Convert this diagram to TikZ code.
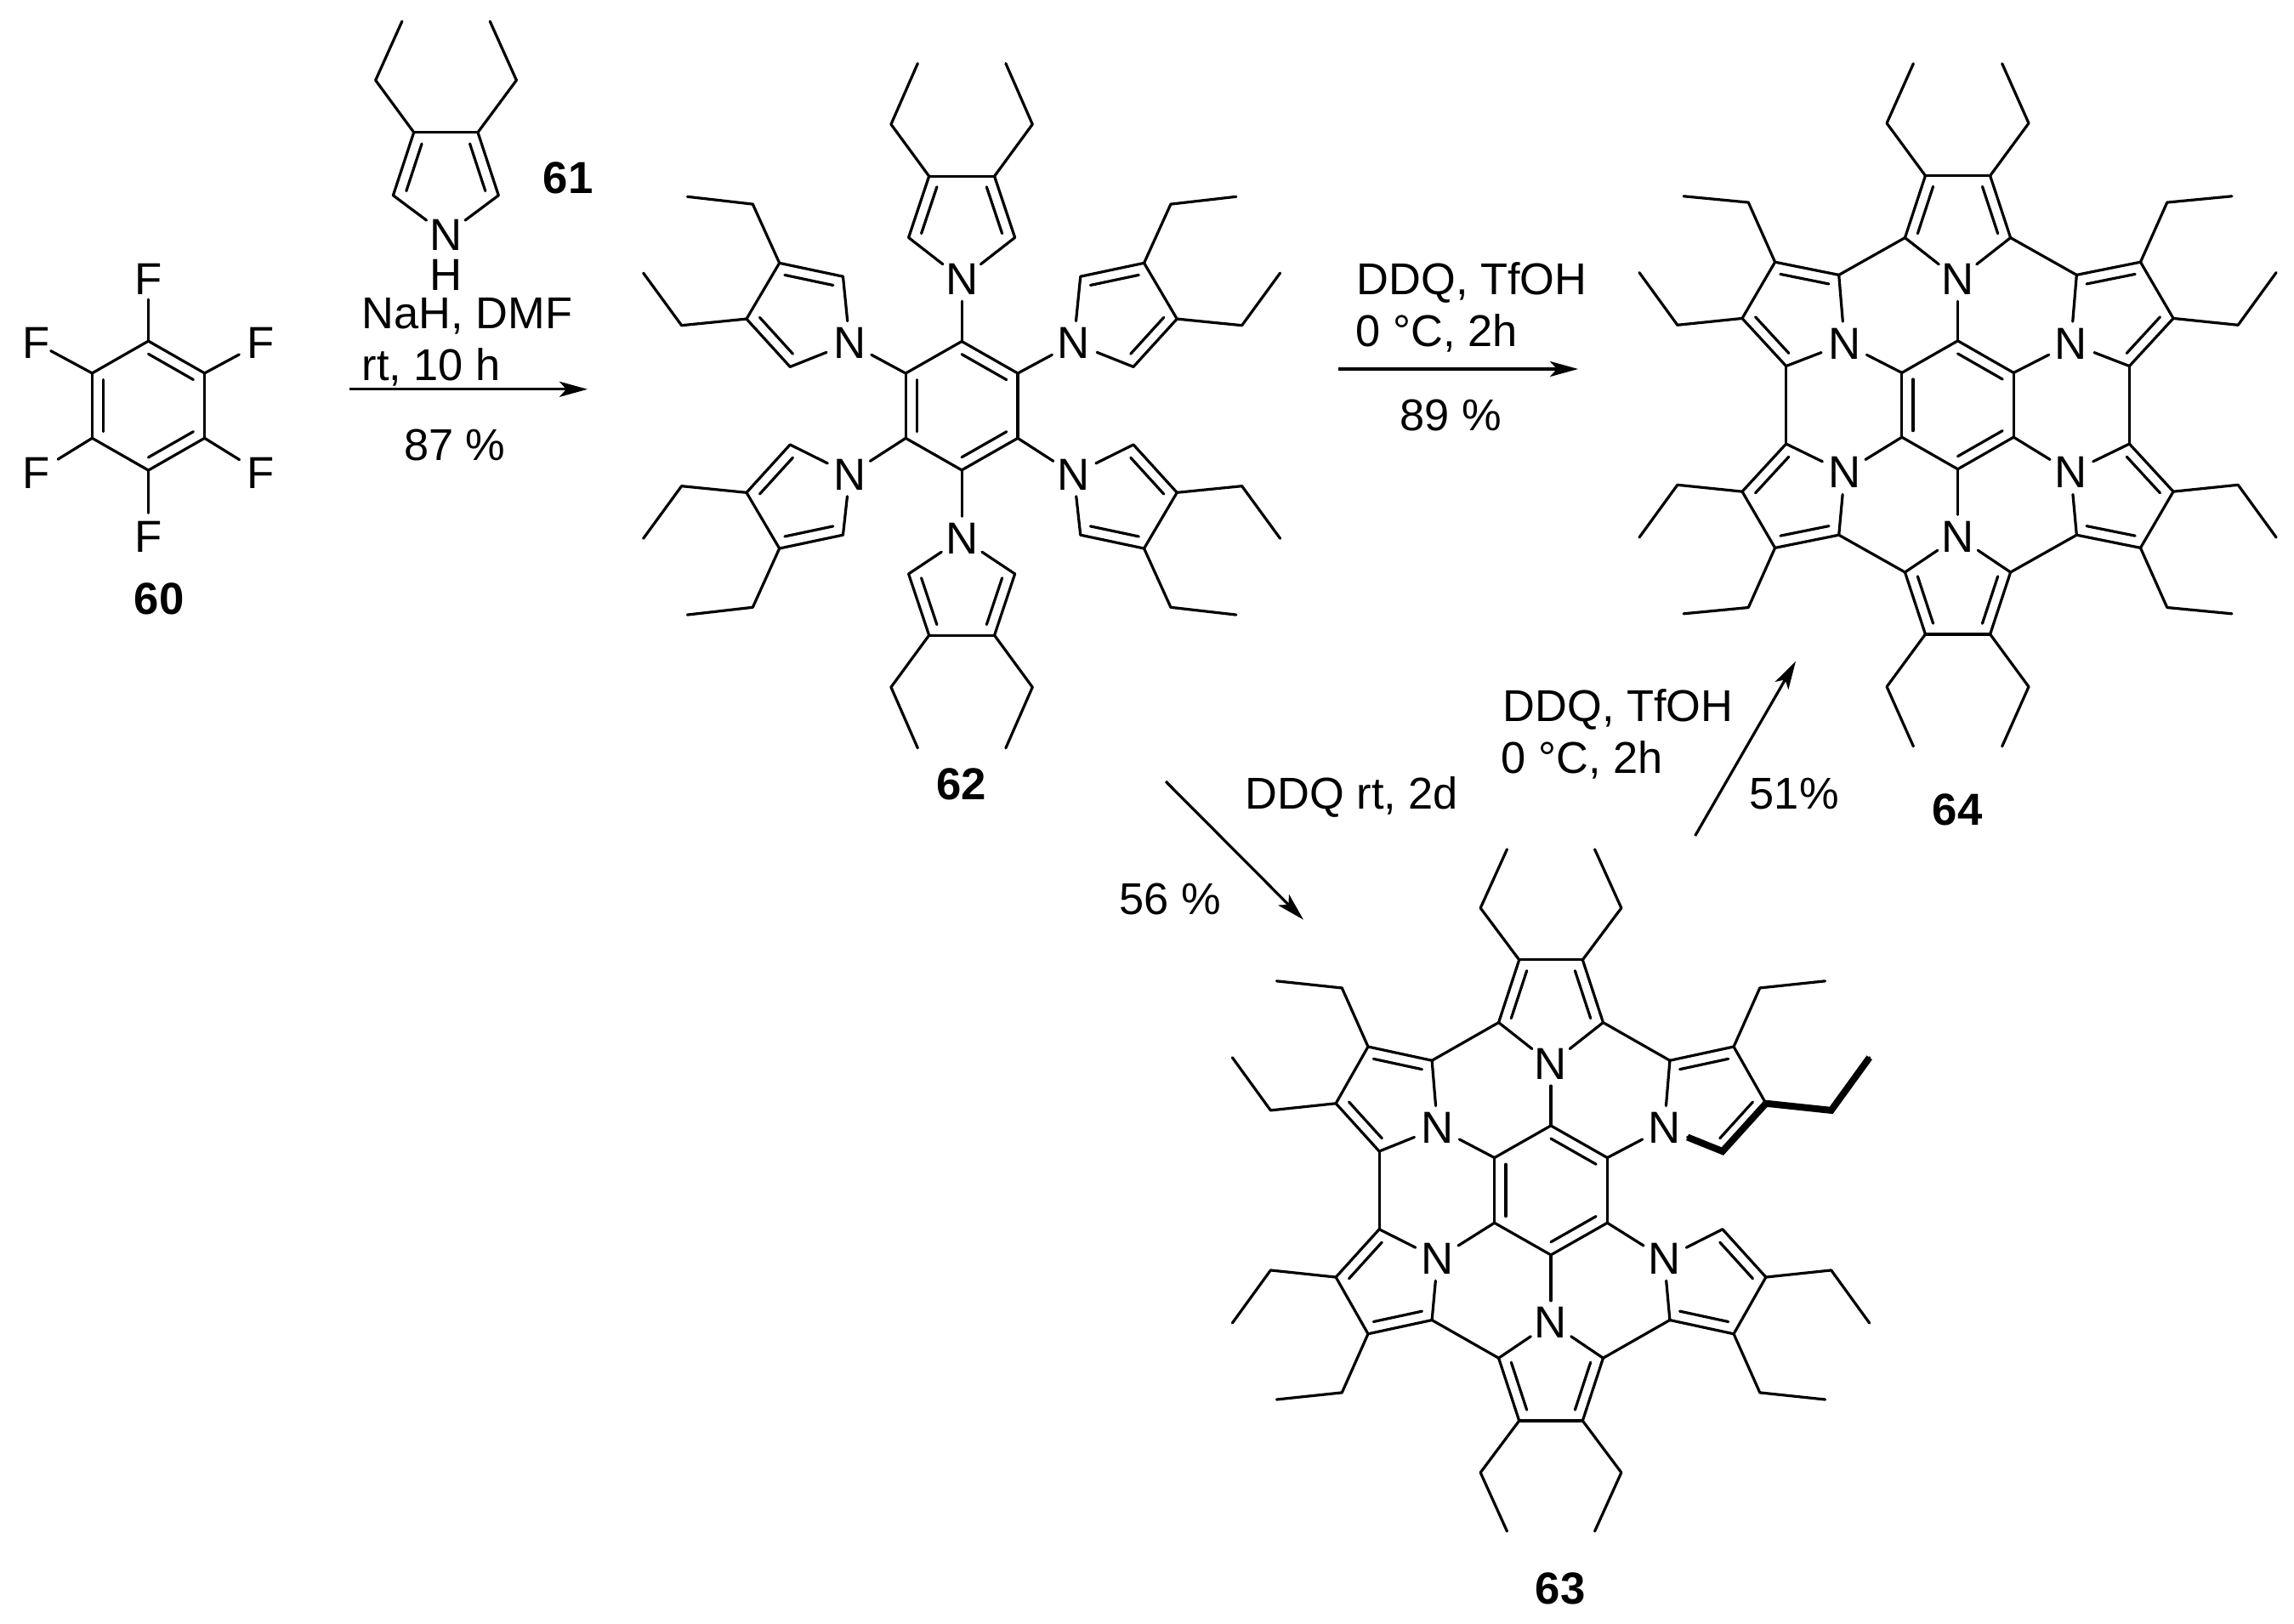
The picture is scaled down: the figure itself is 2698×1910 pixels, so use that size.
\documentclass[tikz,border=0pt]{standalone}
\usepackage{fontspec}
\setmainfont{Liberation Sans}
\usetikzlibrary{calc,arrows.meta,shapes.geometric}
\tikzset{
  bond/.style={line width=0.032cm,line cap=round,line join=miter,black},
  boldbond/.style={line width=0.08cm,line cap=butt,line join=miter,black},
  rxn/.style={line width=0.032cm,-{Stealth[length=0.33cm,width=0.18cm,inset=0.08cm]},black},
  Natom/.style={ellipse,inner sep=0pt,outer sep=0pt,minimum width=0.60cm,minimum height=0.52cm,
    font=\fontsize{15}{16}\selectfont},
  Fatom/.style={rectangle,inner sep=0pt,outer sep=0pt,font=\fontsize{15}{16}\selectfont},
  txt/.style={anchor=base west,inner sep=0pt,font=\fontsize{14.9}{16}\selectfont},
  ctxt/.style={anchor=base,inner sep=0pt,font=\fontsize{14.9}{16}\selectfont},
  lab/.style={anchor=base,inner sep=0pt,font=\fontsize{15}{16}\selectfont\bfseries},
}
\newcommand{\sbond}[2]{\draw[bond] (#1) -- (#2);}
\newcommand{\dbond}[4]{\draw[bond] (#1) -- (#2);
  \draw[bond] ($(#1)!#4!(#3)$) -- ($(#2)!#4!(#3)$);}
% #1 name, #2 cx, #3 cy, #4 fx, #5 fy
\newcommand{\placeatoms}[5]{%
  \coordinate (#1z) at (#2,#3);
  \foreach \qy/\sy in {T/-1,B/1}{
    \node[Natom] (#1\qy n0) at ({#2},{#3+\sy*\nzero/#5+3.5}) {N};
    \coordinate (#1\qy b0) at ({#2},{#3+\sy*\bzero/#5});
    \coordinate (#1\qy r0) at ({#2},{#3+\sy*\rzero/#5});
    \foreach \qx/\sx in {R/1,L/-1}{
      \foreach \nm/\xx/\yy in \atomlist{
        \coordinate (#1\qy\qx\nm) at ({#2+\sx*\xx/#4},{#3+\sy*\yy/#5});
      }
      \node[Natom] (#1\qy\qx n1) at ({#2+\sx*\nonex/#4},{#3+\sy*\noney/#5+3.5}) {N};
    }
  }
}
\newcommand{\drawmol}[1]{%
  \dbond{#1Tb0}{#1TRb1}{#1z}{0.2}
  \sbond{#1Tb0}{#1TLb1}
  \sbond{#1TRb1}{#1BRb1}
  \dbond{#1TLb1}{#1BLb1}{#1z}{0.2}
  \dbond{#1BRb1}{#1Bb0}{#1z}{0.2}
  \sbond{#1Bb0}{#1BLb1}
  \foreach \qy in {T,B}{
    \sbond{#1\qy n0}{#1\qy b0}
    \sbond{#1\qy Rp0}{#1\qy Lp0}
    \foreach \qx in {R,L}{
      \sbond{#1\qy n0}{#1\qy\qx a0}
      \dbond{#1\qy\qx a0}{#1\qy\qx p0}{#1\qy r0}{0.24}
      \sbond{#1\qy\qx p0}{#1\qy\qx e0}
      \sbond{#1\qy\qx e0}{#1\qy\qx f0}
      \sbond{#1\qy\qx n1}{#1\qy\qx b1}
      \sbond{#1\qy\qx n1}{#1\qy\qx a1}
      \dbond{#1\qy\qx a1}{#1\qy\qx p1}{#1\qy\qx r1}{0.24}
      \sbond{#1\qy\qx p1}{#1\qy\qx q1}
      \dbond{#1\qy\qx q1}{#1\qy\qx c1}{#1\qy\qx r1}{0.24}
      \sbond{#1\qy\qx c1}{#1\qy\qx n1}
      \sbond{#1\qy\qx p1}{#1\qy\qx e1}
      \sbond{#1\qy\qx e1}{#1\qy\qx f1}
      \sbond{#1\qy\qx q1}{#1\qy\qx g1}
      \sbond{#1\qy\qx g1}{#1\qy\qx h1}
    }
  }
}
\begin{document}
\begin{tikzpicture}[x=0.01cm,y=-0.01cm]
\fill[white] (0,0) rectangle (2698,1910);
\useasboundingbox (0,0) rectangle (2698,1910);

% ---------- 60 ----------
\coordinate (Fz) at (174.5,477.1);
\coordinate (Fa) at (174.5,401.1);
\coordinate (Fb) at (240.6,438.9);
\coordinate (Fc) at (240.6,515.3);
\coordinate (Fd) at (174.5,553.1);
\coordinate (Fe) at (108.4,515.3);
\coordinate (Ff) at (108.4,438.9);
\node[Fatom] (Fn1) at (174.5,328) {F};
\node[Fatom] (Fn2) at (306.2,403.5) {F};
\node[Fatom] (Fn3) at (306.2,555.9) {F};
\node[Fatom] (Fn4) at (174.5,631.4) {F};
\node[Fatom] (Fn5) at (42.7,555.9) {F};
\node[Fatom] (Fn6) at (42.7,403.5) {F};
\dbond{Fa}{Fb}{Fz}{0.2}
\sbond{Fb}{Fc}
\dbond{Fc}{Fd}{Fz}{0.2}
\sbond{Fd}{Fe}
\dbond{Fe}{Ff}{Fz}{0.2}
\sbond{Ff}{Fa}
\draw[bond,shorten >=0.06cm] (Fa) -- (Fn1);
\draw[bond,shorten >=0.10cm] (Fb) -- (Fn2);
\draw[bond,shorten >=0.10cm] (Fc) -- (Fn3);
\draw[bond,shorten >=0.10cm] (Fd) -- (Fn4);
\draw[bond,shorten >=0.11cm] (Fe) -- (Fn5);
\draw[bond,shorten >=0.01cm] (Ff) -- (Fn6);
\node[lab] (m60) at (187.3,722) {60};

% ---------- 61 ----------
\node[Natom] (Pn) at (524.3,276.1) {N};
\node[Fatom] (Ph) at (524.3,323.3) {H};
\coordinate (Pr) at (524.3,209);
\coordinate (Pa1) at (462.4,229.8);
\coordinate (Pa2) at (586.3,229.8);
\coordinate (Pb1) at (486.7,155.7);
\coordinate (Pb2) at (562,155.7);
\coordinate (Pc1) at (441.7,94.4);
\coordinate (Pc2) at (607.4,94.4);
\coordinate (Pd1) at (472.9,25);
\coordinate (Pd2) at (576.2,25);
\sbond{Pn}{Pa1}
\sbond{Pn}{Pa2}
\dbond{Pa1}{Pb1}{Pr}{0.25}
\dbond{Pa2}{Pb2}{Pr}{0.25}
\sbond{Pb1}{Pb2}
\sbond{Pb1}{Pc1}
\sbond{Pc1}{Pd1}
\sbond{Pb2}{Pc2}
\sbond{Pc2}{Pd2}
\node[lab] (m61) at (668,228) {61};

% ---------- first arrow ----------
\coordinate (A1s) at (410.9,457.8);
\coordinate (A1e) at (691,457.8);
\draw[rxn] (A1s) -- (A1e);
\node[txt] (t1) at (425,387) {NaH, DMF};
\node[txt] (t2) at (425,447.4) {rt, 10 h};
\node[ctxt] (t3) at (534.9,541.8) {87 \%};

% ---------- 62 ----------
\def\nzero{260}\def\bzero{129}\def\rzero{371}\def\nonex{252}\def\noney{131.5}
\def\atomlist{a0/119.5/337,p0/73.5/460,e0/159/564,f0/99/686,b1/126/65,a1/267/259,p1/410/286,q1/484/174,c1/386/78,e1/470/404,f1/617/419,g1/630/161,h1/716/266,r1/360/186}
\placeatoms{u}{1131.1}{477.2}{1.912}{1.704}
\drawmol{u}
\node[lab] (m62) at (1130.6,940.8) {62};

% ---------- 64 ----------
\def\nzero{270}\def\bzero{134.5}\def\rzero{386.4}\def\nonex{255}\def\noney{135}
\def\atomlist{a0/119/350.5,p0/73/480.5,e0/160/590.5,f0/100/715.5,b1/126/67.5,a1/268/272.5,p1/412/299.5,q1/486/181.5,c1/387/81.5,e1/472/424.5,f1/618/437.5,g1/632/167.5,h1/718/277.5,r1/361.6/194}
\placeatoms{w}{2302.5}{476.3}{1.917}{1.782}
\drawmol{w}
\foreach \qy in {T,B}{\foreach \qx in {R,L}{\sbond{w\qy\qx a0}{w\qy\qx a1}}}
\sbond{wTRc1}{wBRc1}
\sbond{wTLc1}{wBLc1}
\node[lab] (m64) at (2302,970) {64};

% ---------- 63 ----------
\def\nzero{262.5}\def\bzero{131}\def\rzero{375.3}\def\nonex{243}\def\noney{132.5}
\def\atomlist{a0/112/340,p0/68/467,e0/151/572,f0/94/691,b1/121/66,a1/255/263,p1/392/291,q1/461/176,c1/368/79,e1/448/410,f1/588/424,g1/601/162,h1/683/269,r1/343.8/188.3}
\placeatoms{v}{1824}{1399.9}{1.823}{1.723}
\drawmol{v}
\foreach \qy in {T,B}{\foreach \qx in {R,L}{\sbond{v\qy\qx a0}{v\qy\qx a1}}}
\sbond{vTLc1}{vBLc1}
\draw[boldbond] (vTRn1) -- (vTRc1) -- (vTRq1) -- (vTRg1) -- (vTRh1);
\node[lab] (m63) at (1835,1886) {63};

% ---------- other arrows and texts ----------
\coordinate (A2s) at (1574,434);
\coordinate (A2e) at (1856,434);
\draw[rxn] (A2s) -- (A2e);
\node[txt] (t4) at (1595,346.7) {DDQ, TfOH};
\node[txt] (t5) at (1594,408) {0 °C, 2h};
\node[txt] (t6) at (1646,506.7) {89 \%};

\coordinate (A3s) at (1371,919);
\coordinate (A3e) at (1533,1081.7);
\draw[rxn] (A3s) -- (A3e);
\node[txt] (t7) at (1464,951.7) {DDQ rt, 2d};
\node[txt] (t8) at (1316,1075) {56 \%};

\coordinate (A4s) at (1993.6,983);
\coordinate (A4e) at (2112,777.7);
\draw[rxn] (A4s) -- (A4e);
\node[txt] (t9) at (1767,848) {DDQ, TfOH};
\node[txt] (t10) at (1765,909) {0 °C, 2h};
\node[txt] (t11) at (2057,951.7) {51\%};
\end{tikzpicture}
\end{document}
